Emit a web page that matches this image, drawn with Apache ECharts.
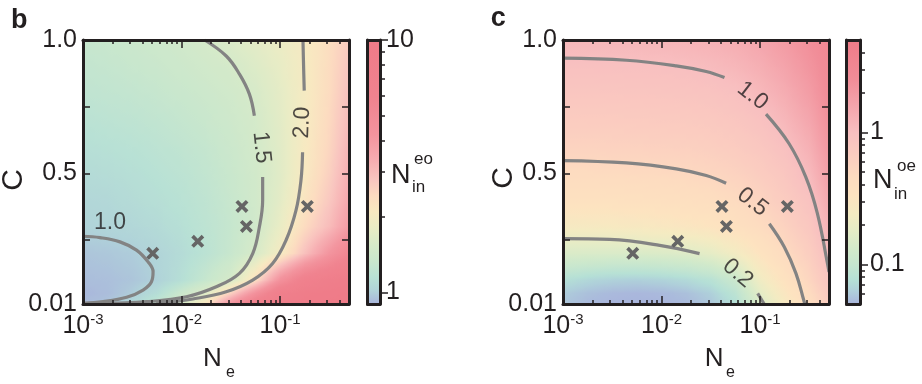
<!DOCTYPE html>
<html>
<head>
<meta charset="utf-8">
<script src="https://cdn.jsdelivr.net/npm/echarts@6.0.0/dist/echarts.min.js"></script>
<style>
html,body{margin:0;padding:0;background:#fff;}
#chart{width:922px;height:384px;}
</style>
</head>
<body>
<div id="chart"></div>
<script>
// ================= DATA =================
const neRange = [0.001, 0.5];
const cRange = [0.01, 1.0];
const neMajorTicks = [0.001, 0.01, 0.1];
const neMinorTicks = [0.002,0.003,0.004,0.005,0.006,0.007,0.008,0.009,0.02,0.03,0.04,0.05,0.06,0.07,0.08,0.09,0.2,0.3,0.4,0.5];
const cTickValues = [0.25, 0.5, 0.75];
const cLabelValues = [0.01, 0.5, 1.0];

// grid nodes of the colour fields
const neNodes = [0.001, 0.00178, 0.00316, 0.00562, 0.01, 0.0178, 0.0316, 0.0562, 0.1, 0.178, 0.316, 0.5];
const cNodes = [0.01, 0.05, 0.1, 0.2, 0.3, 0.4, 0.5, 0.6, 0.7, 0.8, 0.9, 1.0];

// panel b: N_in^eo (rows follow cNodes bottom->top, columns follow neNodes)
const fieldB = [
  [0.92,0.96,1.05,1.25,1.50,2.20,4.30,7.00,8.80,9.50,9.80,10.0],
  [0.91,0.93,0.99,1.10,1.35,1.65,2.60,4.50,7.50,8.80,9.40,9.80],
  [0.93,0.94,0.96,1.01,1.12,1.30,1.52,2.30,4.40,6.80,8.00,8.80],
  [0.96,0.97,0.99,1.03,1.09,1.18,1.31,1.54,2.00,2.90,4.20,5.50],
  [1.02,1.03,1.05,1.08,1.13,1.20,1.29,1.44,1.80,2.40,3.00,3.90],
  [1.05,1.06,1.09,1.12,1.16,1.22,1.31,1.44,1.71,2.20,2.75,3.50],
  [1.08,1.10,1.12,1.15,1.19,1.25,1.33,1.45,1.67,2.09,2.60,3.30],
  [1.12,1.14,1.16,1.19,1.23,1.28,1.36,1.48,1.68,2.06,2.50,3.15],
  [1.17,1.19,1.21,1.24,1.28,1.33,1.40,1.50,1.70,2.03,2.45,3.00],
  [1.22,1.24,1.26,1.29,1.33,1.38,1.44,1.54,1.73,2.02,2.40,2.90],
  [1.26,1.28,1.31,1.34,1.39,1.44,1.50,1.62,1.78,2.02,2.38,2.80],
  [1.30,1.32,1.35,1.39,1.44,1.51,1.60,1.71,1.85,2.03,2.35,2.70]
];
// panel c: N_in^oe
const fieldC = [
  [0.058,0.052,0.050,0.050,0.050,0.052,0.058,0.075,0.150,0.260,0.420,0.680],
  [0.061,0.055,0.052,0.051,0.052,0.055,0.063,0.085,0.175,0.290,0.460,0.750],
  [0.076,0.068,0.064,0.063,0.065,0.070,0.080,0.110,0.220,0.350,0.530,0.850],
  [0.150,0.148,0.147,0.148,0.152,0.160,0.180,0.230,0.330,0.460,0.650,1.020],
  [0.255,0.258,0.262,0.268,0.280,0.295,0.320,0.370,0.450,0.580,0.780,1.230],
  [0.360,0.363,0.368,0.375,0.385,0.400,0.420,0.470,0.560,0.690,0.910,1.470],
  [0.460,0.460,0.470,0.475,0.485,0.500,0.530,0.580,0.670,0.810,1.090,1.750],
  [0.570,0.573,0.580,0.590,0.600,0.610,0.640,0.690,0.790,0.960,1.300,2.050],
  [0.680,0.683,0.690,0.700,0.710,0.720,0.750,0.810,0.920,1.150,1.550,2.350],
  [0.800,0.803,0.810,0.820,0.830,0.850,0.880,0.950,1.110,1.370,1.840,2.620],
  [0.940,0.944,0.950,0.960,0.970,1.000,1.060,1.150,1.330,1.630,2.140,2.830],
  [1.130,1.140,1.150,1.160,1.180,1.210,1.270,1.370,1.570,1.930,2.440,3.000]
];

// colour bars
const cbarBRange = [0.9, 10];
const cbarBMajor = [1, 10];
const cbarBMinor = [2, 3, 4, 5, 6, 7, 8, 9];
const cbarCRange = [0.05, 5];
const cbarCMajor = [0.1, 1];
const cbarCMinor = [0.06,0.07,0.08,0.09,0.2,0.3,0.4,0.5,0.6,0.7,0.8,0.9,2,3,4];

// contour lines, panel b  [Ne, C]
const contourB_10 = [[0.001,0.264],[0.00149,0.259],[0.00237,0.243],[0.00349,0.212],[0.00457,0.168],[0.00514,0.131],[0.00495,0.0933],[0.00407,0.0623],[0.00277,0.035],[0.0016,0.0186],[0.001,0.0126]];
const contourB_15a = [[0.01714,1.0],[0.0284,0.940],[0.0387,0.872],[0.0488,0.797],[0.0548,0.716]];
const contourB_15b = [[0.0665,0.486],[0.0665,0.399],[0.0616,0.299],[0.0527,0.199],[0.0387,0.125],[0.0225,0.0746],[0.0112,0.0373],[0.0044,0.0186],[0.0015,0.011]];
const contourB_20a = [[0.1706,1.0],[0.173,0.903],[0.1757,0.810]];
const contourB_20b = [[0.169,0.579],[0.1627,0.473],[0.1449,0.361],[0.1148,0.249],[0.0839,0.162],[0.0527,0.0997],[0.0284,0.056],[0.0130,0.0287],[0.006,0.0126],[0.0055,0.011]];
// contour lines, panel c
const contourC_10a = [[0.001,0.932],[0.0044,0.924],[0.0141,0.903],[0.0284,0.882],[0.0435,0.859]];
const contourC_10b = [[0.1148,0.722],[0.197,0.611],[0.291,0.486],[0.381,0.35],[0.482,0.163],[0.5,0.13]];
const contourC_05a = [[0.001,0.548],[0.0044,0.539],[0.0141,0.517],[0.0284,0.492],[0.0452,0.463]];
const contourC_05b = [[0.124,0.311],[0.176,0.224],[0.231,0.125],[0.28,0.0186],[0.285,0.01]];
const contourC_02a = [[0.001,0.255],[0.00299,0.252],[0.00957,0.230],[0.0243,0.199]];
const contourC_02b = [[0.0944,0.05],[0.11,0.01]];

// contour labels
const labelsB_ne = [0.00188, 0.0646, 0.1676];
const labelsB_c = [0.316, 0.597, 0.690];
const labelsB_text = ['1.0', '1.5', '2.0'];
const labelsC_ne = [0.0839, 0.0839, 0.0593];
const labelsC_c = [0.791, 0.392, 0.125];
const labelsC_text = ['1.0', '0.5', '0.2'];

// measured points (crosses)
const crossNe = [0.0051, 0.0146, 0.041, 0.0455, 0.189];
const crossC = [0.200, 0.245, 0.376, 0.301, 0.376];

// ================= STYLE =================
const FF = '"Liberation Sans", Arial, Helvetica, sans-serif';
const INK = '#231f20';
const LINE_GREY = '#838383';
const CROSS_GREY = '#656565';
const labelRotB = [0, -84, 88];
const labelRotC = [-38, -38, -40];
const cmapStopsB = [
  [0.00,'#a9b5dc'],[0.05,'#b0d3d9'],[0.10,'#b8e1d5'],[0.16,'#c9e7cd'],[0.22,'#d6eac9'],
  [0.29,'#eaecc5'],[0.35,'#f8e9c1'],[0.41,'#fcdbc0'],[0.47,'#f9c6c0'],[0.55,'#f6abb0'],
  [0.64,'#f3949e'],[0.78,'#f0838f'],[1.00,'#ef7b88']
];
const cmapStopsC = [
  [0.00,'#a9b5dc'],[0.05,'#afd0da'],[0.09,'#b5e0d6'],[0.15,'#c6e6cf'],[0.21,'#d3eaca'],
  [0.28,'#e6ecc6'],[0.34,'#f4ebc2'],[0.41,'#fde3c0'],[0.48,'#fddcc0'],[0.56,'#fbcdc0'],
  [0.65,'#f8bfc0'],[0.75,'#f4a5ac'],[0.85,'#f18d98'],[1.00,'#ef7b88']
];
function makeCmap(stops) {
  const rgb = stops.map(s => [s[0], parseInt(s[1].slice(1,3),16), parseInt(s[1].slice(3,5),16), parseInt(s[1].slice(5,7),16)]);
  return function (f) {
    f = Math.max(0, Math.min(1, f));
    for (let k = 1; k < rgb.length; k++) {
      if (f <= rgb[k][0]) {
        const a = rgb[k-1], b = rgb[k];
        const t = (f - a[0]) / (b[0] - a[0]);
        return 'rgb(' + Math.round(a[1]+(b[1]-a[1])*t) + ',' + Math.round(a[2]+(b[2]-a[2])*t) + ',' + Math.round(a[3]+(b[3]-a[3])*t) + ')';
      }
    }
    const l = rgb[rgb.length-1];
    return 'rgb(' + l[1] + ',' + l[2] + ',' + l[3] + ')';
  };
}
const cmapB = makeCmap(cmapStopsB);
const cmapC = makeCmap(cmapStopsC);

function fieldRenderer(field, range, cmap) {
  const l0 = Math.log10(range[0]), l1 = Math.log10(range[1]);
  const toF = v => (Math.log10(v) - l0) / (l1 - l0);
  const SUB = 4;
  return function (params, api) {
    const i = api.value(2), j = api.value(3);
    const pA = api.coord([neNodes[i], cNodes[j]]);
    const pB = api.coord([neNodes[i+1], cNodes[j+1]]);
    const f00 = toF(field[j][i]), f10 = toF(field[j][i+1]);
    const f01 = toF(field[j+1][i]), f11 = toF(field[j+1][i+1]);
    const bil = (u, v) => f00*(1-u)*(1-v) + f10*u*(1-v) + f01*(1-u)*v + f11*u*v;
    const children = [];
    for (let a = 0; a < SUB; a++) {
      for (let b = 0; b < SUB; b++) {
        const u0 = a/SUB, u1 = (a+1)/SUB, v0 = b/SUB, v1 = (b+1)/SUB;
        const x0 = pA[0] + (pB[0]-pA[0])*u0, x1 = pA[0] + (pB[0]-pA[0])*u1;
        const y0 = pA[1] + (pB[1]-pA[1])*v0, y1 = pA[1] + (pB[1]-pA[1])*v1;
        const g00 = bil(u0,v0), g10 = bil(u1,v0), g01 = bil(u0,v1), g11 = bil(u1,v1);
        const W = x1 - x0, H = y1 - y0;
        const gx = ((g10-g00) + (g11-g01)) / 2 / W;
        const gy = ((g01-g00) + (g11-g10)) / 2 / H;
        const gm = Math.hypot(gx, gy);
        const cx = (x0+x1)/2, cy = (y0+y1)/2, fc = (g00+g10+g01+g11)/4;
        let fill;
        if (!(gm > 1e-9)) {
          fill = cmap(fc);
        } else {
          const dx = gx/gm, dy = gy/gm;
          const s = Math.abs(dx)*Math.abs(W)/2 + Math.abs(dy)*Math.abs(H)/2;
          fill = {type:'linear', global:true, x: cx-dx*s, y: cy-dy*s, x2: cx+dx*s, y2: cy+dy*s,
            colorStops:[{offset:0,color:cmap(fc-gm*s)},{offset:0.5,color:cmap(fc)},{offset:1,color:cmap(fc+gm*s)}]};
        }
        children.push({type:'rect', shape:{x:Math.min(x0,x1)-0.5, y:Math.min(y0,y1)-0.5, width:Math.abs(W)+1, height:Math.abs(H)+1}, style:{fill:fill}});
      }
    }
    return {type:'group', children:children};
  };
}

function cellsOf() {
  const out = [];
  for (let j = 0; j < cNodes.length-1; j++)
    for (let i = 0; i < neNodes.length-1; i++)
      out.push([neNodes[i], cNodes[j], i, j]);
  return out;
}

function colorbarRenderer(stops) {
  return function (params, api) {
    const pTop = api.coord([0, api.value(2)]);
    const pBot = api.coord([1, api.value(1)]);
    return {type:'rect', shape:{x:pTop[0], y:pTop[1], width:pBot[0]-pTop[0], height:pBot[1]-pTop[1]},
      style:{fill:{type:'linear', x:0, y:1, x2:0, y2:0, colorStops: stops.map(s => ({offset:s[0], color:s[1]}))}}};
  };
}

// ================= AXES =================
const axisLineStyle = {show:true, onZero:false, lineStyle:{color:INK, width:3}};
const noLine = {show:false, onZero:false};
const tickStyle = {color:INK, width:1.5};
const powLabel = v => '{b|10}{s|' + Math.round(Math.log10(v)) + '}';
const richPow = {
  b:{fontSize:25, fontFamily:FF, color:INK, lineHeight:28, verticalAlign:'middle'},
  s:{fontSize:15, fontFamily:FF, color:INK, lineHeight:18, verticalAlign:'top'}
};

function plotXAxes(g) {
  const base = {gridIndex:g, type:'log', logBase:10, min:neRange[0], max:neRange[1], z:10, splitLine:{show:false}, axisLabel:{show:false}, axisLine:noLine, axisTick:{show:false}};
  return [
    Object.assign({}, base, {position:'bottom', axisLine:axisLineStyle,
      axisTick:{show:true, inside:true, length:8, lineStyle:tickStyle, customValues:neMajorTicks},
      axisLabel:{show:true, margin:8, customValues:neMajorTicks, formatter:powLabel, rich:richPow}}),
    Object.assign({}, base, {position:'bottom', axisTick:{show:true, inside:true, length:4, lineStyle:tickStyle, customValues:neMinorTicks}}),
    Object.assign({}, base, {position:'top', axisLine:axisLineStyle,
      axisTick:{show:true, inside:true, length:8, lineStyle:tickStyle, customValues:neMajorTicks}}),
    Object.assign({}, base, {position:'top', axisTick:{show:true, inside:true, length:4, lineStyle:tickStyle, customValues:neMinorTicks}})
  ];
}
function plotYAxes(g) {
  const base = {gridIndex:g, type:'value', min:cRange[0], max:cRange[1], z:10, splitLine:{show:false}, axisLine:axisLineStyle};
  return [
    Object.assign({}, base, {position:'left',
      axisTick:{show:true, inside:true, length:7, lineStyle:tickStyle, customValues:cTickValues},
      axisLabel:{show:true, margin:6, fontSize:25, fontFamily:FF, color:INK, customValues:cLabelValues,
        formatter: v => v.toFixed(v < 0.1 ? 2 : 1)}}),
    Object.assign({}, base, {position:'right',
      axisTick:{show:true, inside:true, length:7, lineStyle:tickStyle, customValues:cTickValues},
      axisLabel:{show:false}})
  ];
}
function cbarXAxes(g) {
  const base = {gridIndex:g, type:'value', min:0, max:1, z:10, splitLine:{show:false}, axisLabel:{show:false}, axisTick:{show:false}, axisLine:axisLineStyle};
  return [Object.assign({}, base, {position:'bottom'}), Object.assign({}, base, {position:'top'})];
}
function cbarYAxes(g, range, major, minor, margin) {
  const base = {gridIndex:g, type:'log', logBase:10, min:range[0], max:range[1], z:10, splitLine:{show:false}, axisLabel:{show:false}, axisTick:{show:false}, axisLine:noLine};
  return [
    Object.assign({}, base, {position:'left', axisLine:axisLineStyle}),
    Object.assign({}, base, {position:'right', axisLine:axisLineStyle,
      axisTick:{show:true, inside:false, length:8, lineStyle:tickStyle, customValues:major},
      axisLabel:{show:true, margin:margin, fontSize:25, fontFamily:FF, color:INK, customValues:major,
        formatter: v => (v >= 1 ? String(Math.round(v)) : String(+v.toPrecision(2)))}}),
    Object.assign({}, base, {position:'right', axisTick:{show:true, inside:false, length:5, lineStyle:tickStyle, customValues:minor}})
  ];
}

// ================= SERIES =================
function lineSeries(data, xi, yi) {
  return {type:'line', xAxisIndex:xi, yAxisIndex:yi, data:data, smooth:0.4, symbol:'none', silent:true, z:3,
    lineStyle:{color:LINE_GREY, width:3.2}};
}
const crossPath = 'path://M2,0 L5,3 L8,0 L10,2 L7,5 L10,8 L8,10 L5,7 L2,10 L0,8 L3,5 L0,2 Z';
function crossSeries(xi, yi) {
  return {type:'scatter', xAxisIndex:xi, yAxisIndex:yi, symbol:crossPath, symbolSize:13, silent:true, z:4,
    itemStyle:{color:CROSS_GREY, opacity:1}, data: crossNe.map((x, k) => [x, crossC[k]])};
}
function labelSeries(xs, ys, texts, rots, xi, yi) {
  return {type:'scatter', xAxisIndex:xi, yAxisIndex:yi, symbolSize:0.1, silent:true, z:5,
    itemStyle:{color:'rgba(0,0,0,0)'},
    data: xs.map((x, k) => ({value:[x, ys[k]], label:{show:true, position:'inside', formatter:texts[k], rotate:rots[k],
      fontSize:23, fontFamily:FF, color:INK}}))};
}

const series = [
  {type:'custom', xAxisIndex:0, yAxisIndex:0, data:cellsOf(), renderItem:fieldRenderer(fieldB, cbarBRange, cmapB), clip:true, silent:true, z:1},
  {type:'custom', xAxisIndex:6, yAxisIndex:5, data:cellsOf(), renderItem:fieldRenderer(fieldC, cbarCRange, cmapC), clip:true, silent:true, z:1},
  {type:'custom', xAxisIndex:4, yAxisIndex:2, data:[[0, cbarBRange[0], cbarBRange[1]]], renderItem:colorbarRenderer(cmapStopsB), silent:true, z:1},
  {type:'custom', xAxisIndex:10, yAxisIndex:7, data:[[0, cbarCRange[0], cbarCRange[1]]], renderItem:colorbarRenderer(cmapStopsC), silent:true, z:1},
  lineSeries(contourB_10, 0, 0), lineSeries(contourB_15a, 0, 0), lineSeries(contourB_15b, 0, 0),
  lineSeries(contourB_20a, 0, 0), lineSeries(contourB_20b, 0, 0),
  lineSeries(contourC_10a, 6, 5), lineSeries(contourC_10b, 6, 5), lineSeries(contourC_05a, 6, 5),
  lineSeries(contourC_05b, 6, 5), lineSeries(contourC_02a, 6, 5), lineSeries(contourC_02b, 6, 5),
  crossSeries(0, 0), crossSeries(6, 5),
  labelSeries(labelsB_ne, labelsB_c, labelsB_text, labelRotB, 0, 0),
  labelSeries(labelsC_ne, labelsC_c, labelsC_text, labelRotC, 6, 5)
];

function txt(x, y, text, size, weight) {
  return {type:'text', x:x, y:y, silent:true, z:20,
    style:{text:text, fontSize:size, fontWeight:weight || 'normal', fontFamily:FF, fill:INK, align:'left', textAlign:'left', verticalAlign:'middle', textVerticalAlign:'middle'}};
}
function vtxt(x, y, text, size) {
  return {type:'text', x:x, y:y, rotation:Math.PI/2, silent:true, z:20,
    style:{text:text, fontSize:size, fontFamily:FF, fill:INK, align:'center', textAlign:'center', verticalAlign:'middle', textVerticalAlign:'middle'}};
}
const graphics = [
  txt(11, 20.6, 'b', 27, 'bold'),
  txt(490.7, 18.9, 'c', 27, 'bold'),
  vtxt(13.5, 180, 'C', 30),
  vtxt(503.5, 178, 'C', 30),
  txt(203, 358.5, 'N', 26), txt(226, 372.5, 'e', 16),
  txt(704.7, 358.5, 'N', 26), txt(725.9, 372.5, 'e', 16),
  txt(391, 175.6, 'N', 27), txt(412, 187.1, 'in', 17), txt(414, 159.1, 'eo', 17),
  txt(873, 180.6, 'N', 27), txt(894, 194.1, 'in', 17), txt(897, 166.1, 'oe', 17)
];

const option = {
  animation:false,
  backgroundColor:'#ffffff',
  grid:[
    {left:83, top:40, width:266, height:264},
    {left:367.5, top:40, width:12.5, height:264},
    {left:563, top:40, width:266, height:264},
    {left:846.5, top:40, width:13.5, height:264}
  ],
  xAxis: [].concat(plotXAxes(0), cbarXAxes(1), plotXAxes(2), cbarXAxes(3)),
  yAxis: [].concat(plotYAxes(0), cbarYAxes(1, cbarBRange, cbarBMajor, cbarBMinor, 6), plotYAxes(2), cbarYAxes(3, cbarCRange, cbarCMajor, cbarCMinor, 10)),
  series: series,
  graphic: graphics
};
const chart = echarts.init(document.getElementById('chart'), null, {renderer:'canvas'});
chart.setOption(option);
</script>
</body>
</html>
